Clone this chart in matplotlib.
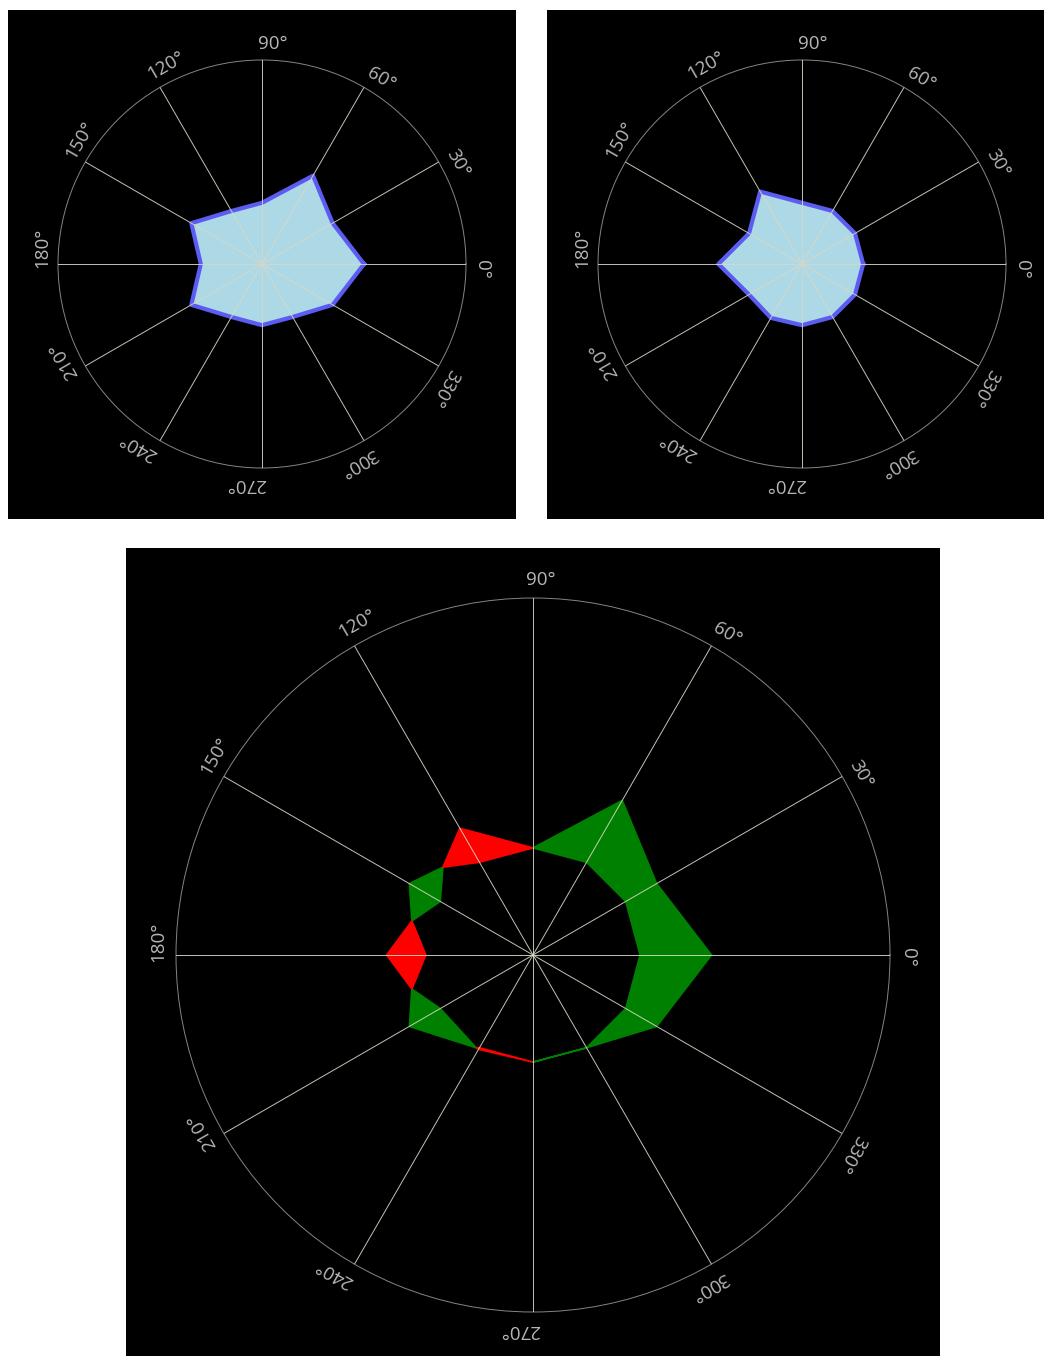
import numpy as np
import matplotlib
matplotlib.use('Agg')
import matplotlib.pyplot as plt
from matplotlib.patches import Rectangle

plt.rcParams['font.family'] = ['Open Sans', 'DejaVu Sans']

# angles of the data points, in degrees
angles_deg = [0, 30, 60, 90, 120, 150, 180, 210, 240, 270, 300, 330]
# series shown top-left
series_a = [0.50, 0.40, 0.50, 0.30, 0.30, 0.40, 0.30, 0.40, 0.30, 0.30, 0.30, 0.40]
# series shown top-right
series_b = [0.30, 0.30, 0.30, 0.30, 0.41, 0.30, 0.41, 0.30, 0.305, 0.30, 0.30, 0.30]
tick_deg = [0, 30, 60, 90, 120, 150, 180, 210, 240, 270, 300, 330]
tick_labels = [f'{d}\u00b0' for d in tick_deg]

W, H = 1044, 1356
fig = plt.figure(figsize=(W / 100, H / 100), dpi=100)
fig.patch.set_facecolor('white')


def px_rect(x0, y0, w, h):
    # pixel box (top-left origin) -> figure fraction
    return [x0 / W, 1 - (y0 + h) / H, w / W, h / H]


def black_panel(x0, y0, w, h):
    l, b, ww, hh = px_rect(x0, y0, w, h)
    fig.patches.append(Rectangle((l, b), ww, hh, transform=fig.transFigure,
                                 facecolor='black', edgecolor='none', zorder=-10))


def style_polar(ax, label_off):
    ax.set_facecolor('black')
    ax.set_ylim(0, 1)
    ax.set_yticks([])
    ax.set_xticks(np.deg2rad(tick_deg))
    ax.set_xticklabels([])
    ax.grid(True, color='#d8d8c6', linewidth=0.7, alpha=0.9)
    ax.set_axisbelow(False)
    ax.spines['polar'].set_color('#858585')
    ax.spines['polar'].set_linewidth(0.7)
    # labels start just before the spoke and run clockwise along the rim
    for d, lab in zip(tick_deg, tick_labels):
        ax.text(np.deg2rad(d + 1.1), label_off, lab, rotation=d - 90,
                rotation_mode='anchor', ha='left', va='center',
                color='#b8b8b8', fontsize=13.5, clip_on=False)


theta = np.deg2rad(angles_deg + [angles_deg[0]])
a = np.array(series_a + [series_a[0]])
b = np.array(series_b + [series_b[0]])

# top-left
black_panel(8, 10, 508, 509)
ax1 = fig.add_axes(px_rect(58, 60, 408, 408), projection='polar')
style_polar(ax1, 1.078)
ax1.fill(theta, a, color='#add8e6', zorder=1)
ax1.plot(theta, a, color='#5c5cf2', linewidth=3, zorder=1.5)

# top-right
black_panel(547, 10, 520, 509)
ax2 = fig.add_axes(px_rect(598, 60, 408, 408), projection='polar')
style_polar(ax2, 1.078)
ax2.fill(theta, b, color='#add8e6', zorder=1)
ax2.plot(theta, b, color='#5c5cf2', linewidth=3, zorder=1.5)

# bottom: difference between the two series
black_panel(126, 548, 814, 820)
ax3 = fig.add_axes(px_rect(176, 598, 714, 714), projection='polar')
style_polar(ax3, 1.05)
ax3.fill_between(theta, a, b, where=a >= b, interpolate=True,
                 color='green', linewidth=1.2, zorder=1)
ax3.fill_between(theta, a, b, where=a < b, interpolate=True,
                 color='red', linewidth=1.2, zorder=1)

fig.savefig('out.png', dpi=100, facecolor='white')
